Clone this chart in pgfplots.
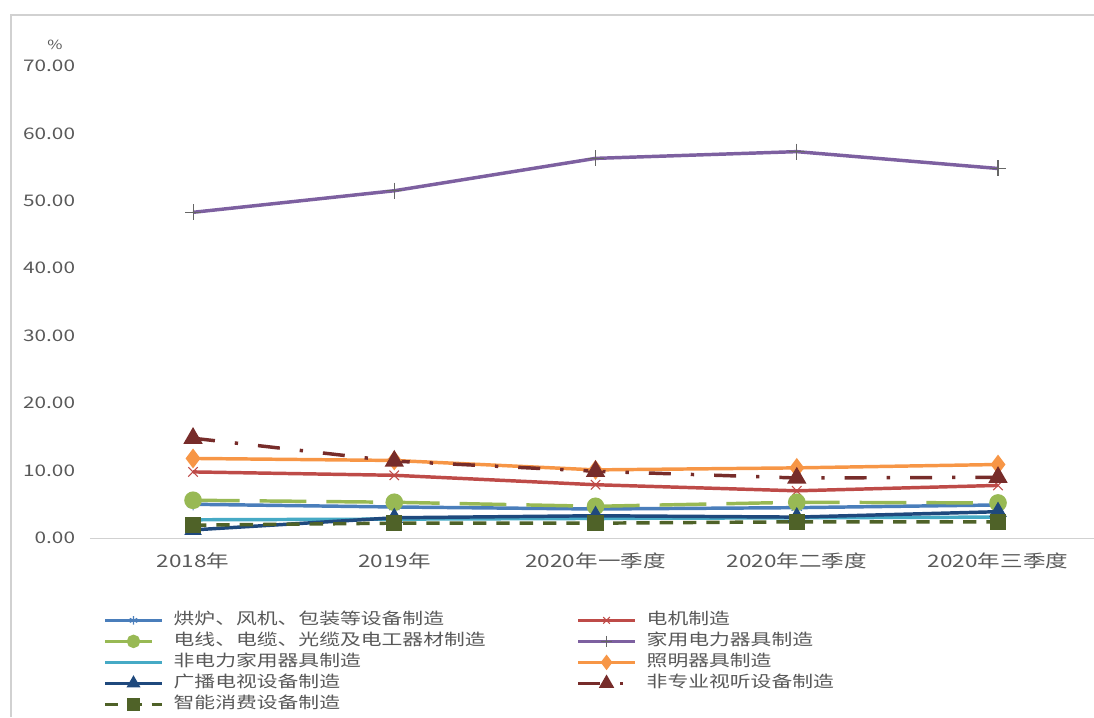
\documentclass[border=0pt]{standalone}
\usepackage{pgfplots}
\pgfplotsset{compat=1.18}
\usepackage{fontspec}
\setmainfont{Noto Sans CJK SC}[FakeStretch=1.3]
\definecolor{tickgray}{HTML}{595959}
\definecolor{cBlue}{HTML}{4A7EBB}
\definecolor{cRed}{HTML}{BE4B48}
\definecolor{cGreen}{HTML}{98B954}
\definecolor{cPurple}{HTML}{7D60A0}
\definecolor{cCyan}{HTML}{46AAC5}
\definecolor{cOrange}{HTML}{F79646}
\definecolor{cNavy}{HTML}{1F497D}
\definecolor{cDRed}{HTML}{772C2A}
\definecolor{cDGreen}{HTML}{4F6228}
\begin{document}
\begin{tikzpicture}
\path[use as bounding box] (-67.5pt,-134.25pt) rectangle (753pt,403.5pt);
\begin{axis}[
  at={(0pt,0pt)}, anchor=south west,
  scale only axis, width=753pt, height=354pt,
  xmin=-0.512, xmax=4.477, ymin=0, ymax=70,
  clip=false,
  axis x line*=bottom, axis y line*=left,
  y axis line style={draw=none},
  x axis line style={draw=black!18, line width=0.75pt},
  major tick length=0pt,
  xtick={0,1,2,3,4},
  xticklabels={2018年,2019年,2020年一季度,2020年二季度,2020年三季度},
  ytick={0,10,20,30,40,50,60,70},
  yticklabels={0.00,10.00,20.00,30.00,40.00,50.00,60.00,70.00},
  tick label style={text=tickgray},
  xticklabel style={font=\fontsize{13}{15}\selectfont, inner sep=0pt, yshift=-11pt},
  yticklabel style={font=\fontsize{12}{14}\selectfont, inner sep=0pt, xshift=-11pt},
  legend columns=2,
  legend cell align=left,
  legend style={at={(0.013,-0.157)}, anchor=north west, draw=none, inner sep=0pt,
    font=\fontsize{12}{14}\selectfont, text=tickgray, row sep=3.75pt,
    nodes={inner sep=0pt, text height=9pt, text depth=3pt},
    /tikz/every odd column/.append style={column sep=7.5pt},
    /tikz/every even column/.append style={text width=302pt}},
  legend image code/.code={\draw[mark repeat=2,mark phase=2,/tikz/every mark/.append style={scale=0.7}] plot coordinates {(0cm,0cm) (0.75cm,0cm) (1.5cm,0cm)};},
  every axis plot/.append style={line width=2.6pt, mark options={solid}},
]
\addplot[cBlue, mark=asterisk, mark size=4.5pt, mark options={line width=0.8pt}] coordinates {(0,5.0) (1,4.6) (2,4.3) (3,4.5) (4,4.9)};
\addlegendentry{烘炉、风机、包装等设备制造}
\addplot[cRed, mark=x, mark size=5pt, mark options={line width=0.8pt}] coordinates {(0,9.8) (1,9.3) (2,7.9) (3,7.0) (4,7.8)};
\addlegendentry{电机制造}
\addplot[cGreen, dash pattern=on 35pt off 15pt, mark=*, mark size=5.3pt] coordinates {(0,5.6) (1,5.3) (2,4.7) (3,5.3) (4,5.2)};
\addlegendentry{电线、电缆、光缆及电工器材制造}
\addplot[cPurple, mark=+, mark size=6pt, mark options={draw=black!60, line width=0.8pt}] coordinates {(0,48.3) (1,51.5) (2,56.3) (3,57.3) (4,54.8)};
\addlegendentry{家用电力器具制造}
\addplot[cCyan, mark=-, mark size=5pt] coordinates {(0,2.7) (1,2.8) (2,2.9) (3,3.0) (4,3.1)};
\addlegendentry{非电力家用器具制造}
\addplot[cOrange, mark=diamond*, mark size=5.3pt] coordinates {(0,11.8) (1,11.5) (2,10.1) (3,10.4) (4,10.9)};
\addlegendentry{照明器具制造}
\addplot[cNavy, mark=triangle*, mark size=5pt] coordinates {(0,1.2) (1,3.0) (2,3.3) (3,3.1) (4,3.9)};
\addlegendentry{广播电视设备制造}
\addplot[cDRed, dash pattern=on 16.5pt off 15pt on 2.5pt off 15pt, mark=triangle*, mark size=5.8pt] coordinates {(0,14.8) (1,11.4) (2,9.9) (3,8.9) (4,9.0)};
\addlegendentry{非专业视听设备制造}
\addplot[cDGreen, dash pattern=on 10pt off 7.5pt, mark=square*, mark size=4.8pt] coordinates {(0,1.9) (1,2.2) (2,2.2) (3,2.4) (4,2.4)};
\addlegendentry{智能消费设备制造}
\node[font=\fontsize{9.5}{11}\selectfont, text=tickgray] at (rel axis cs:-0.035,1.045) {\%};
\end{axis}
\draw[black!18, line width=1.2pt] (-59.25pt,-134.25pt) -- (-59.25pt,392.25pt) -- (753pt,392.25pt);
\end{tikzpicture}
\end{document}
